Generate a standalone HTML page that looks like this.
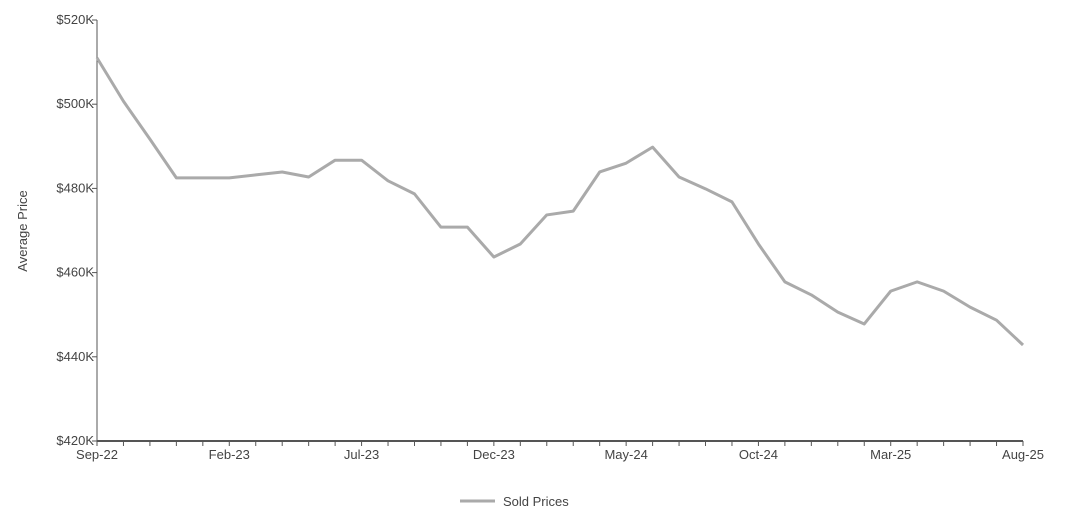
<!DOCTYPE html>
<html><head><meta charset="utf-8"><style>
body{margin:0;background:#fff;}
svg text{font-family:"Liberation Sans",Arial,sans-serif;fill:#444;font-size:13px;}
</style></head><body>
<svg width="1072" height="523">
<g id="axes"></g>
<g id="marks"></g>
<text transform="translate(27,231) rotate(-90)" text-anchor="middle" font-size="14">Average Price</text>
<g>
<line x1="460" y1="501" x2="495" y2="501" stroke="#aaaaaa" stroke-width="3"/>
<text x="503" y="506" font-size="15">Sold Prices</text>
</g>
</svg>
<script>
const months=["Sep-22","Oct-22","Nov-22","Dec-22","Jan-23","Feb-23","Mar-23","Apr-23","May-23","Jun-23","Jul-23","Aug-23","Sep-23","Oct-23","Nov-23","Dec-23","Jan-24","Feb-24","Mar-24","Apr-24","May-24","Jun-24","Jul-24","Aug-24","Sep-24","Oct-24","Nov-24","Dec-24","Jan-25","Feb-25","Mar-25","Apr-25","May-25","Jun-25","Jul-25","Aug-25"];
const prices=[511,500.7,491.7,482.5,482.5,482.5,483.2,483.9,482.7,486.7,486.7,481.8,478.7,470.8,470.8,463.7,466.8,473.7,474.6,483.9,486.0,489.8,482.7,479.9,476.8,466.8,457.8,454.7,450.6,447.8,455.6,457.8,455.6,451.8,448.7,442.8];
const yTicks=[420,440,460,480,500,520];
const xLabelEvery=5;
const X0=97,X1=1023,Y0=441,Y1=20,YMIN=420,YMAX=520;
const ns="http://www.w3.org/2000/svg";
function x(i){return X0+(X1-X0)*i/(months.length-1);}
function y(v){return Y0-(Y0-Y1)*(v-YMIN)/(YMAX-YMIN);}
function mk(t,a,p){const e=document.createElementNS(ns,t);for(const k in a)e.setAttribute(k,a[k]);p.appendChild(e);return e;}
const ax=document.getElementById('axes');
const ya=mk('line',{x1:X0,y1:Y1,x2:X0,y2:Y0,stroke:'#555','stroke-width':1},ax);


const xa=mk('line',{x1:X0,y1:Y0,x2:X1,y2:Y0,stroke:'#555','stroke-width':2},ax);


yTicks.forEach(v=>{
 const tk=mk('line',{x1:X0-5,y1:y(v),x2:X0,y2:y(v),stroke:'#555'},ax);
 
 
 const t=mk('text',{x:X0-3,y:y(v)+4,'text-anchor':'end'},ax);
 t.textContent='$'+v+'K';
 
 
});
months.forEach((m,i)=>{
 const tk=mk('line',{x1:x(i),y1:Y0,x2:x(i),y2:Y0+5,stroke:'#555'},ax);
 
 
 if(i%xLabelEvery===0){
  const t=mk('text',{x:x(i),y:Y0+18,'text-anchor':'middle'},ax);
  t.textContent=m;
  
  
 }
});
const mg=document.getElementById('marks');
const pl=mk('polyline',{points:prices.map((v,i)=>x(i)+','+y(v)).join(' '),fill:'none',stroke:'#aaaaaa','stroke-width':3,'stroke-linejoin':'round'},mg);


</script>
</body></html>
